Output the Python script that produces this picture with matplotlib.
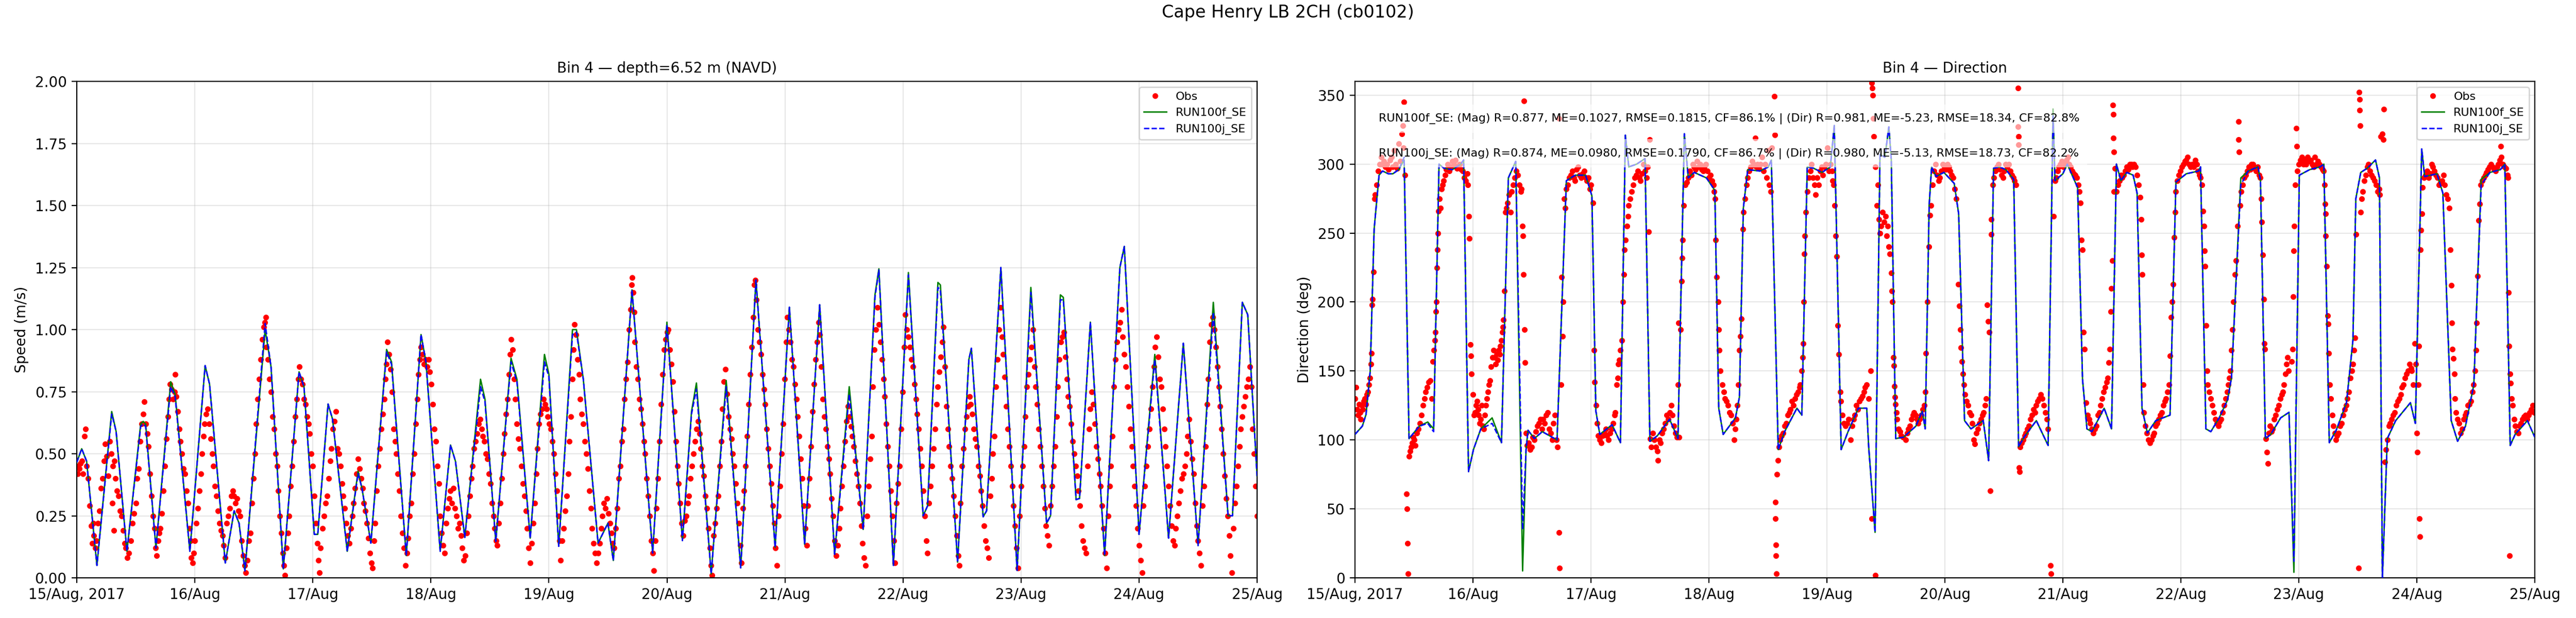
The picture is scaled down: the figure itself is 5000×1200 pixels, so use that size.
import matplotlib
matplotlib.use("Agg")
import matplotlib.pyplot as plt
from matplotlib.ticker import MultipleLocator

# ---------------- data (time in hours since 15/Aug/2017 00:00) ----------------
day_ticks = [0, 24, 48, 72, 96, 120, 144, 168, 192, 216, 240]
day_labels = ["15/Aug, 2017", "16/Aug", "17/Aug", "18/Aug", "19/Aug", "20/Aug",
              "21/Aug", "22/Aug", "23/Aug", "24/Aug", "25/Aug"]

# model speed vertices: (hour, RUN100f, RUN100j)
speed_model = [
    (0, 0.465, 0.465), (1, 0.52, 0.52), (2, 0.47, 0.47), (4.1, 0.05, 0.05),
    (7.1, 0.67, 0.66), (8, 0.59, 0.59), (10.2, 0.107, 0.107), (13.0, 0.62, 0.61),
    (13.5, 0.63, 0.62), (14.0, 0.62, 0.61), (16.1, 0.12, 0.12), (19.1, 0.79, 0.77),
    (20, 0.74, 0.73), (23.0, 0.107, 0.107), (26.1, 0.855, 0.855), (27, 0.78, 0.78),
    (30.2, 0.06, 0.06), (32.0, 0.27, 0.27), (33, 0.22, 0.22), (34.2, 0.028, 0.028),
    (38.3, 1.00, 1.025), (39.5, 0.85, 0.85), (42.0, 0.036, 0.036), (45.2, 0.83, 0.83),
    (46.2, 0.77, 0.77), (48.3, 0.175, 0.175), (49.0, 0.175, 0.175), (51.1, 0.70, 0.70),
    (52, 0.64, 0.64), (55.0, 0.107, 0.107), (57.2, 0.43, 0.42), (58, 0.36, 0.36),
    (59.8, 0.14, 0.14), (63.0, 0.92, 0.91), (64, 0.87, 0.86), (67.0, 0.09, 0.09),
    (70.0, 0.98, 0.98), (71, 0.87, 0.87), (73.9, 0.107, 0.107), (76.0, 0.535, 0.535),
    (77, 0.47, 0.47), (78.9, 0.163, 0.163), (82.1, 0.80, 0.77), (83, 0.72, 0.71),
    (85.2, 0.147, 0.147), (88.3, 0.885, 0.87), (89.5, 0.80, 0.79), (92.2, 0.16, 0.16),
    (95.1, 0.90, 0.87), (96, 0.82, 0.81), (98.0, 0.127, 0.127), (100.8, 1.00, 0.98),
    (101.6, 1.00, 0.99), (103, 0.80, 0.80), (106.0, 0.14, 0.14), (108.0, 0.22, 0.22),
    (109.1, 0.07, 0.07), (112.9, 1.16, 1.16), (117.1, 0.10, 0.10), (120.0, 1.03, 1.02),
    (123.15, 0.15, 0.15), (125.0, 0.67, 0.66), (126.0, 0.785, 0.76), (129.0, 0.016, 0.016),
    (132.05, 0.795, 0.77), (135.0, 0.04, 0.04), (138.1, 1.20, 1.20), (142.0, 0.123, 0.123),
    (144.9, 1.09, 1.09), (148.0, 0.135, 0.135), (151.06, 1.10, 1.10), (154.1, 0.095, 0.095),
    (157.07, 0.77, 0.74), (159.9, 0.195, 0.195), (162.3, 1.14, 1.13), (163.1, 1.245, 1.24),
    (166.05, 0.05, 0.05), (169.1, 1.23, 1.22), (172.1, 0.25, 0.25), (173.0, 0.29, 0.29),
    (175.1, 1.19, 1.17), (175.6, 1.18, 1.16), (179.1, 0.063, 0.063), (181.4, 0.88, 0.88),
    (181.9, 0.925, 0.925), (184.3, 0.246, 0.246), (185.0, 0.27, 0.27), (187.9, 1.25, 1.25),
    (191.2, 0.03, 0.03), (194.0, 1.17, 1.15), (197.2, 0.22, 0.22), (198.0, 0.25, 0.25),
    (200.0, 1.14, 1.12), (200.6, 1.13, 1.12), (203.2, 0.315, 0.315), (203.9, 0.32, 0.32),
    (206.1, 1.03, 1.03), (209.0, 0.09, 0.09), (212.1, 1.25, 1.25), (213.0, 1.335, 1.335),
    (216.0, 0.175, 0.175), (219.2, 0.90, 0.88), (222.0, 0.16, 0.16), (225.0, 0.945, 0.945),
    (228.0, 0.13, 0.13), (231.1, 1.11, 1.07), (234.1, 0.25, 0.25), (235.0, 0.25, 0.25),
    (237.0, 1.11, 1.11), (238.1, 1.06, 1.06), (240.0, 0.41, 0.41),
]

# observed speed: (hour, m/s)
speed_obs = [
    (0.0,0.45),(0.25,0.42),(0.5,0.44),(0.75,0.46),(1.0,0.47),(1.3,0.42),(1.6,0.57),(1.8,0.60),(2.0,0.45),(2.3,0.40),
    (2.6,0.29),(2.9,0.21),(3.1,0.14),(3.3,0.22),(3.5,0.17),(3.8,0.12),(4.0,0.15),(4.3,0.22),(4.6,0.27),(4.9,0.36),
    (5.2,0.40),(5.5,0.47),(5.8,0.54),(6.1,0.49),(6.4,0.41),(6.7,0.55),(7.0,0.50),(7.2,0.30),(7.3,0.45),(7.5,0.19),
    (7.6,0.47),(7.9,0.40),(8.2,0.35),(8.5,0.33),(8.8,0.27),(9.1,0.25),(9.4,0.19),(9.7,0.14),(10.0,0.12),(10.3,0.08),
    (10.6,0.10),(11.0,0.15),(11.3,0.22),(11.6,0.26),(12.0,0.30),(12.3,0.40),(12.6,0.44),(12.9,0.55),(13.2,0.62),(13.5,0.66),
    (13.7,0.71),(14.0,0.62),(14.3,0.58),(14.6,0.53),(14.9,0.42),(15.2,0.33),(15.5,0.25),(15.8,0.20),(16.0,0.12),(16.2,0.09),
    (16.5,0.15),(16.8,0.18),(17.0,0.20),(17.3,0.26),(17.6,0.35),(17.9,0.45),(18.2,0.56),(18.5,0.65),(18.8,0.72),(19.0,0.78),
    (19.3,0.76),(19.6,0.72),(19.9,0.75),(20.0,0.82),(20.2,0.73),(20.5,0.67),(20.8,0.60),(21.1,0.55),(21.4,0.50),(21.7,0.44),
    (22.0,0.42),(22.3,0.35),(22.6,0.30),(22.9,0.20),(23.1,0.15),(23.3,0.08),(23.6,0.06),(23.8,0.10),
    (24.0,0.15),(24.3,0.22),(24.6,0.28),(24.9,0.35),(25.2,0.42),(25.5,0.50),(25.8,0.57),(26.0,0.62),(26.3,0.66),(26.6,0.68),
    (26.9,0.62),(27.2,0.56),(27.5,0.50),(27.8,0.45),(28.1,0.37),(28.4,0.33),(28.7,0.27),(29.0,0.22),(29.3,0.19),(29.6,0.17),
    (29.9,0.13),(30.2,0.08),(30.5,0.22),(30.8,0.25),(31.1,0.28),(31.4,0.33),(31.7,0.35),(32.0,0.33),(32.3,0.30),(32.6,0.32),
    (32.9,0.27),(33.2,0.25),(33.5,0.15),(33.8,0.09),(34.1,0.05),(34.4,0.02),(34.7,0.07),
    (35.0,0.15),(35.3,0.18),(35.6,0.30),(35.9,0.40),(36.2,0.50),(36.5,0.62),(36.8,0.72),(37.1,0.80),(37.4,0.88),(37.7,0.96),
    (38.0,1.01),(38.2,1.03),(38.4,1.05),(38.6,0.93),(38.9,0.88),(39.2,0.80),(39.5,0.75),(39.8,0.65),(40.1,0.60),(40.4,0.50),
    (40.7,0.45),(41.0,0.35),(41.3,0.25),(41.6,0.18),(41.9,0.10),(42.1,0.05),(42.3,0.01),
    (42.6,0.12),(42.9,0.18),(43.2,0.25),(43.5,0.37),(43.8,0.45),(44.1,0.55),(44.4,0.65),(44.7,0.72),(45.0,0.80),(45.3,0.85),
    (45.6,0.80),(45.9,0.78),(46.2,0.72),(46.5,0.70),(46.8,0.65),(47.1,0.62),(47.4,0.58),(47.7,0.50),(48.0,0.45),(48.3,0.33),
    (48.6,0.22),(48.9,0.14),(49.1,0.07),(49.3,0.02),(49.6,0.12),
    (50.0,0.20),(50.3,0.25),(50.6,0.30),(50.9,0.33),(51.2,0.40),(51.5,0.47),(51.8,0.52),(52.1,0.60),(52.4,0.63),(52.7,0.67),
    (53.0,0.52),(53.3,0.50),(53.6,0.45),(53.9,0.38),(54.2,0.33),(54.5,0.28),(54.8,0.22),(55.1,0.17),(55.4,0.14),
    (55.7,0.20),(56.0,0.25),(56.3,0.30),(56.6,0.36),(56.9,0.42),(57.2,0.48),(57.5,0.44),(57.8,0.40),(58.1,0.36),(58.4,0.30),
    (58.7,0.27),(59.0,0.22),(59.3,0.16),(59.6,0.10),(59.9,0.06),(60.1,0.04),
    (60.4,0.15),(60.7,0.22),(61.0,0.35),(61.3,0.45),(61.6,0.52),(61.9,0.60),(62.2,0.66),(62.5,0.72),(62.8,0.80),(63.0,0.86),
    (63.2,0.95),(63.5,0.90),(63.8,0.84),(64.1,0.75),(64.4,0.60),(64.7,0.55),(65.0,0.50),(65.3,0.42),(65.6,0.35),(65.9,0.25),
    (66.2,0.18),(66.5,0.12),(66.8,0.05),
    (67.1,0.10),(67.4,0.16),(67.7,0.25),(68.0,0.30),(68.3,0.42),(68.6,0.50),(68.9,0.62),(69.2,0.72),(69.5,0.82),(69.8,0.88),
    (70.0,0.93),(70.3,0.90),(70.6,0.86),(70.9,0.88),(71.2,0.85),(71.5,0.88),(71.8,0.83),(72.1,0.78),(72.4,0.70),(72.7,0.60),
    (73.0,0.55),(73.3,0.45),(73.6,0.38),(73.9,0.25),(74.2,0.18),(74.5,0.13),(74.8,0.10),
    (75.1,0.22),(75.4,0.28),(75.7,0.32),(76.0,0.35),(76.3,0.30),(76.6,0.36),(76.9,0.28),(77.2,0.25),(77.5,0.20),(77.8,0.22),
    (78.1,0.17),(78.4,0.12),(78.7,0.07),(79.0,0.09),
    (79.3,0.18),(79.6,0.25),(79.9,0.33),(80.2,0.40),(80.5,0.45),(80.8,0.52),(81.1,0.55),(81.4,0.58),(81.7,0.62),(82.0,0.64),
    (82.3,0.60),(82.6,0.57),(82.9,0.55),(83.2,0.50),(83.5,0.48),(83.8,0.42),(84.1,0.38),(84.4,0.30),(84.7,0.25),(85.0,0.20),
    (85.3,0.15),(85.5,0.13),
    (85.8,0.22),(86.1,0.30),(86.4,0.40),(86.7,0.50),(87.0,0.58),(87.3,0.66),(87.6,0.72),(87.9,0.82),(88.1,0.90),(88.3,0.96),
    (88.6,0.92),(88.9,0.80),(89.2,0.72),(89.5,0.62),(89.8,0.56),(90.1,0.52),(90.4,0.45),(90.7,0.38),(91.0,0.33),(91.3,0.27),
    (91.6,0.20),(91.9,0.12),(92.2,0.06),
    (92.5,0.14),(92.8,0.22),(93.1,0.30),(93.4,0.42),(93.7,0.52),(94.0,0.62),(94.3,0.66),(94.6,0.68),(94.9,0.72),(95.2,0.70),
    (95.5,0.68),(95.8,0.65),(96.1,0.62),(96.4,0.60),(96.7,0.55),(97.0,0.50),(97.3,0.42),(97.6,0.35),(97.9,0.25),(98.2,0.15),
    (98.4,0.07),
    (98.7,0.15),(99.0,0.20),(99.3,0.27),(99.6,0.33),(99.9,0.42),(100.2,0.55),(100.5,0.65),(100.8,0.80),(101.0,0.92),(101.2,1.02),
    (101.5,0.98),(101.8,0.88),(102.1,0.82),(102.4,0.72),(102.7,0.66),(103.0,0.62),(103.3,0.55),(103.6,0.50),(103.9,0.44),(104.2,0.35),
    (104.5,0.28),(104.8,0.20),(105.1,0.14),(105.4,0.10),(105.7,0.06),
    (106.0,0.10),(106.3,0.14),(106.6,0.20),(106.9,0.25),(107.2,0.30),(107.5,0.28),(107.8,0.32),(108.1,0.26),(108.4,0.22),(108.7,0.18),
    (109.0,0.14),(109.3,0.12),
    (109.6,0.20),(109.9,0.28),(110.2,0.40),(110.5,0.45),(110.8,0.55),(111.1,0.60),(111.4,0.72),(111.7,0.80),(112.0,0.87),(112.3,1.00),
    (112.6,1.08),(112.8,1.18),(112.9,1.21),(113.1,1.15),(113.3,1.07),(113.5,0.95),(113.8,0.85),(114.1,0.80),(114.4,0.72),(114.7,0.68),
    (115.0,0.62),(115.3,0.55),(115.6,0.50),(115.9,0.40),(116.2,0.33),(116.5,0.25),(116.8,0.15),(117.1,0.10),(117.3,0.03),
    (117.6,0.15),(117.9,0.28),(118.2,0.40),(118.5,0.55),(118.8,0.70),(119.1,0.82),(119.4,0.92),(119.7,0.96),(120.0,0.99),(120.3,1.00),
    (120.6,0.92),(120.9,0.86),(121.2,0.79),(121.5,0.67),(121.8,0.55),(122.1,0.45),(122.4,0.38),(122.7,0.30),(123.0,0.22),(123.3,0.17),
    (123.6,0.23),(123.9,0.25),(124.2,0.30),(124.5,0.33),(124.8,0.40),(125.1,0.45),(125.4,0.50),(125.7,0.55),(126.0,0.60),(126.3,0.63),
    (126.6,0.58),(126.9,0.52),(127.2,0.45),(127.5,0.41),(127.8,0.33),(128.1,0.28),(128.4,0.20),(128.7,0.12),(129.0,0.05),(129.2,0.01),
    (129.5,0.17),(129.8,0.22),(130.1,0.28),(130.4,0.33),(130.7,0.45),(131.0,0.55),(131.3,0.68),(131.6,0.79),(131.9,0.84),(132.2,0.74),
    (132.5,0.65),(132.8,0.60),(133.1,0.56),(133.4,0.50),(133.7,0.45),(134.0,0.38),(134.3,0.30),(134.6,0.22),(134.9,0.13),(135.1,0.06),
    (135.4,0.28),(135.7,0.35),(136.0,0.45),(136.3,0.57),(136.6,0.70),(136.9,0.82),(137.2,0.93),(137.5,1.05),(137.8,1.18),(138.0,1.20),
    (138.2,1.12),(138.5,1.00),(138.8,0.95),(139.1,0.90),(139.4,0.82),(139.7,0.76),(140.0,0.70),(140.3,0.60),(140.6,0.52),(140.9,0.45),
    (141.2,0.38),(141.5,0.29),(141.8,0.22),(142.1,0.12),(142.4,0.05),
    (142.7,0.25),(143.0,0.37),(143.3,0.50),(143.6,0.62),(143.9,0.80),(144.2,0.95),(144.5,1.05),(144.8,1.00),(145.1,0.95),(145.4,0.88),
    (145.7,0.85),(146.0,0.78),(146.3,0.72),(146.6,0.65),(146.9,0.57),(147.2,0.48),(147.5,0.40),(147.8,0.29),(148.1,0.20),(148.4,0.13),
    (148.7,0.29),(149.0,0.40),(149.3,0.53),(149.6,0.67),(149.9,0.78),(150.2,0.88),(150.5,0.95),(150.8,1.03),(151.1,0.98),(151.4,0.85),
    (151.7,0.72),(152.0,0.65),(152.3,0.60),(152.6,0.53),(152.9,0.48),(153.2,0.42),(153.5,0.32),(153.8,0.25),(154.1,0.15),(154.4,0.09),
    (154.7,0.13),(155.0,0.20),(155.3,0.28),(155.6,0.37),(155.9,0.45),(156.2,0.55),(156.5,0.63),(156.8,0.69),(157.1,0.65),(157.4,0.61),
    (157.7,0.57),(158.0,0.53),(158.3,0.47),(158.6,0.42),(158.9,0.37),(159.2,0.30),(159.5,0.21),(159.8,0.14),(160.1,0.08),(160.4,0.05),
    (160.7,0.25),(161.0,0.37),(161.3,0.48),(161.6,0.57),(161.9,0.77),(162.2,0.92),(162.5,1.00),(162.8,1.09),(163.1,1.02),(163.4,0.95),
    (163.7,0.88),(164.0,0.80),(164.3,0.73),(164.6,0.62),(164.9,0.53),(165.2,0.45),(165.5,0.35),(165.8,0.25),(166.1,0.15),(166.4,0.06),
    (166.7,0.30),(167.0,0.38),(167.3,0.45),(167.6,0.60),(167.9,0.75),(168.2,0.93),(168.5,1.06),(168.8,1.00),(169.1,0.97),(169.4,0.93),
    (169.7,0.88),(170.0,0.85),(170.3,0.78),(170.6,0.72),(170.9,0.66),(171.2,0.60),(171.5,0.52),(171.8,0.45),(172.1,0.35),(172.4,0.25),
    (172.7,0.15),(173.0,0.10),
    (173.3,0.30),(173.6,0.37),(173.9,0.45),(174.2,0.52),(174.5,0.60),(174.8,0.70),(175.1,0.77),(175.4,0.83),(175.7,0.89),(176.0,0.95),
    (176.2,1.01),(176.5,0.85),(176.8,0.69),(177.1,0.60),(177.4,0.53),(177.7,0.45),(178.0,0.40),(178.3,0.33),(178.6,0.25),(178.9,0.17),
    (179.2,0.09),(179.4,0.05),
    (179.7,0.30),(180.0,0.45),(180.3,0.52),(180.6,0.60),(180.9,0.65),(181.2,0.69),(181.5,0.73),(181.8,0.70),(182.1,0.66),(182.4,0.60),
    (182.7,0.56),(183.0,0.53),(183.3,0.45),(183.6,0.41),(183.9,0.35),(184.2,0.29),(184.5,0.21),(184.8,0.15),(185.1,0.12),(185.4,0.08),
    (185.7,0.33),(186.0,0.40),(186.3,0.50),(186.6,0.57),(186.9,0.77),(187.2,0.88),(187.5,1.00),(187.8,1.09),(188.1,0.97),(188.4,0.90),
    (188.7,0.81),(189.0,0.69),(189.3,0.60),(189.6,0.53),(189.9,0.45),(190.2,0.37),(190.5,0.29),(190.8,0.21),(191.1,0.12),(191.4,0.04),
    (191.7,0.25),(192.0,0.37),(192.3,0.45),(192.6,0.53),(192.9,0.65),(193.2,0.77),(193.5,0.82),(193.8,0.88),(194.1,0.93),(194.4,1.00),
    (194.7,0.85),(195.0,0.77),(195.3,0.70),(195.6,0.60),(195.9,0.53),(196.2,0.45),(196.5,0.37),(196.8,0.28),(197.1,0.21),(197.4,0.17),
    (197.7,0.13),
    (198.0,0.29),(198.3,0.37),(198.6,0.45),(198.9,0.53),(199.2,0.65),(199.5,0.77),(199.8,0.88),(200.1,0.95),(200.4,0.97),(200.7,0.99),
    (201.0,0.89),(201.3,0.80),(201.6,0.73),(201.9,0.69),(202.2,0.62),(202.5,0.55),(202.8,0.50),(203.1,0.45),(203.4,0.41),(203.7,0.35),
    (204.0,0.29),(204.3,0.21),(204.6,0.15),(204.9,0.12),(205.2,0.10),
    (205.5,0.45),(205.8,0.60),(206.1,0.68),(206.4,0.75),(206.7,0.70),(207.0,0.62),(207.3,0.53),(207.6,0.48),(207.9,0.42),(208.2,0.37),
    (208.5,0.29),(208.8,0.20),(209.1,0.10),(209.4,0.04),
    (209.7,0.25),(210.0,0.37),(210.3,0.45),(210.6,0.57),(210.9,0.77),(211.2,0.88),(211.5,0.95),(211.8,1.00),(212.1,1.03),(212.4,1.08),
    (212.7,0.97),(213.0,0.90),(213.3,0.85),(213.6,0.77),(213.9,0.69),(214.2,0.60),(214.5,0.53),(214.8,0.45),(215.1,0.37),(215.4,0.29),
    (215.7,0.20),(216.0,0.13),(216.3,0.07),(216.6,0.02),
    (216.9,0.29),(217.2,0.37),(217.5,0.45),(217.8,0.53),(218.1,0.60),(218.4,0.68),(218.7,0.77),(219.0,0.85),(219.3,0.93),(219.6,0.97),
    (219.9,0.89),(220.2,0.80),(220.5,0.77),(220.8,0.68),(221.1,0.60),(221.4,0.53),(221.7,0.45),(222.0,0.37),(222.3,0.29),(222.6,0.21),
    (222.9,0.15),(223.2,0.13),
    (223.5,0.20),(223.8,0.25),(224.1,0.30),(224.4,0.35),(224.7,0.40),(225.0,0.42),(225.3,0.45),(225.6,0.50),(225.9,0.57),(226.2,0.64),
    (226.5,0.55),(226.8,0.48),(227.1,0.42),(227.4,0.30),(227.7,0.21),(228.0,0.15),(228.3,0.10),(228.6,0.05),
    (228.9,0.29),(229.2,0.37),(229.5,0.53),(229.8,0.70),(230.1,0.80),(230.4,0.95),(230.7,1.02),(231.0,1.05),(231.3,1.00),(231.6,0.93),
    (231.9,0.85),(232.2,0.77),(232.5,0.69),(232.8,0.60),(233.1,0.50),(233.4,0.41),(233.7,0.32),(234.0,0.25),(234.3,0.17),(234.6,0.09),
    (234.9,0.02),
    (235.2,0.20),(235.5,0.30),(235.8,0.37),(236.1,0.45),(236.4,0.53),(236.7,0.60),(237.0,0.65),(237.3,0.69),(237.6,0.73),(237.9,0.77),
    (238.2,0.80),(238.5,0.85),(238.8,0.77),(239.1,0.60),(239.4,0.50),(239.7,0.37),(240.0,0.25),
]

# model direction vertices: (hour, RUN100f, RUN100j)
dir_model = [
    (0, 104, 104), (1.5, 110, 110), (2.25, 118.5, 118.5), (3.1, 150, 150), (3.9, 253, 253),
    (4.9, 292, 292), (5.6, 295, 295), (6.8, 293, 293), (7.7, 293, 293), (8.9, 296, 296),
    (10.0, 303, 305), (11.0, 101, 101), (13.1, 110, 110), (14.8, 113, 112), (16.0, 108, 106),
    (17.1, 300, 300), (18.1, 297, 297), (19.8, 296, 296), (21.5, 300, 300), (22.1, 303, 303),
    (23.1, 77, 77), (24.1, 93, 93), (25.6, 108, 108), (27.9, 116, 112), (29.8, 98, 98),
    (31.2, 290, 290), (32.7, 302, 302), (34.1, 5, 35), (34.8, 93, 93), (35.2, 107, 107),
    (36.5, 101, 101), (38.1, 106, 106), (41.1, 100, 100), (43.0, 288, 288), (44.8, 292, 292),
    (46.9, 292, 292), (48.2, 277, 277), (49.0, 121, 121), (49.8, 104, 104), (52.3, 111, 111),
    (54.0, 98, 98), (55.0, 321, 321), (55.7, 298, 298), (57.3, 300, 300), (59.0, 304, 304),
    (60.0, 99, 99), (61.5, 103, 103), (64.0, 115, 115), (65.7, 101, 101), (67.0, 322, 322),
    (67.8, 290, 290), (69.0, 294, 294), (71.5, 290, 290), (73.2, 281, 281), (74.0, 123, 123),
    (74.9, 104, 104), (77.4, 116, 116), (78.2, 131, 131), (79.0, 268, 268), (79.9, 296, 296),
    (82.4, 295, 295), (84.1, 298, 298), (84.7, 303, 303), (86.1, 93, 93), (87.4, 106, 106),
    (89.9, 123, 123), (90.9, 118, 118), (92.0, 298, 298), (93.3, 297, 297), (95.0, 294, 294),
    (96.7, 298, 298), (97.5, 328, 328), (98.9, 93, 93), (100.3, 106, 106), (102.4, 123, 123),
    (104.1, 123, 123), (104.5, 95, 95), (105.8, 33, 33), (106.8, 307, 307), (107.8, 305, 305),
    (108.6, 327, 327), (109.1, 303, 303), (110.0, 101, 101), (111.6, 102, 102), (114.1, 110, 110),
    (115.4, 121, 121), (116.0, 108, 108), (116.8, 270, 270), (117.3, 298, 298), (118.2, 291, 291),
    (119.8, 294, 294), (121.9, 286, 286), (122.8, 264, 264), (124.0, 114, 114), (125.3, 108, 108),
    (127.8, 114, 114), (128.9, 85, 85), (129.9, 297, 297), (131.1, 298, 298), (132.4, 296, 296),
    (134.0, 289, 289), (135.0, 95, 95), (136.1, 102, 102), (138.6, 114, 114), (141.0, 96, 96),
    (142.0, 340, 335), (142.4, 288, 288), (144.0, 293, 293), (144.9, 300, 300), (147.0, 283, 283),
    (148.0, 144, 144), (148.9, 108, 108), (149.9, 106, 106), (152.4, 123, 123), (153.9, 108, 108),
    (154.9, 300, 300), (155.8, 288, 288), (157.0, 294, 294), (158.3, 292, 292), (159.1, 279, 279),
    (160.1, 123, 123), (161.2, 105, 105), (162.9, 114, 114), (165.8, 118, 118), (167.0, 287, 287),
    (169.1, 293, 293), (171.6, 295, 295), (172.0, 298, 298), (173.1, 108, 108), (174.1, 106, 106),
    (175.8, 116, 116), (177.5, 129, 129), (178.3, 145, 145), (180.2, 290, 285), (181.7, 295, 295),
    (183.7, 298, 298), (184.2, 288, 288), (185.2, 101, 101), (186.3, 104, 104), (188.3, 116, 116),
    (190.0, 120, 120), (191.0, 4, 12), (192.1, 292, 292), (194.2, 296, 296), (196.3, 298, 298),
    (197.1, 300, 300), (198.2, 98, 98), (199.6, 107, 107), (201.7, 127, 127), (203.0, 172, 172),
    (203.6, 275, 275), (204.6, 294, 294), (205.9, 297, 297), (207.6, 303, 303), (208.4, 290, 290),
    (209.0, 0, 0), (210.0, 101, 101), (211.7, 114, 114), (214.7, 127, 127), (215.7, 112, 112),
    (217.0, 311, 311), (217.6, 291, 291), (220.1, 293, 293), (221.3, 279, 279), (223.0, 114, 114),
    (224.3, 99, 99), (225.9, 110, 110), (227.6, 140, 140), (229.1, 289, 285), (230.9, 294, 294),
    (233.0, 296, 296), (233.9, 300, 300), (235.0, 96, 96), (236.0, 104, 104), (238.5, 114, 114),
    (240.0, 102, 102),
]

# observed direction: (hour, deg)
dir_obs = [
    (0.0,130),(0.2,138),(0.4,122),(0.6,118),(0.8,126),(1.0,120),(1.2,115),(1.4,125),(1.6,122),(1.8,128),(2.0,130),(2.2,126),
    (2.4,133),(2.6,135),(2.8,140),(3.0,145),(3.2,155),(3.35,163),(3.5,198),(3.6,202),(3.8,222),(4.0,275),(4.1,278),(4.4,285),
    (4.7,295),(5.0,300),(5.3,305),(5.6,300),(5.9,302),(6.2,298),(6.5,300),(6.8,296),(7.1,303),(7.4,305),(7.7,298),(8.0,310),
    (8.3,300),(8.6,297),(8.9,315),(9.2,302),(9.5,322),(9.7,328),(9.9,312),(10.0,345),(10.2,292),
    (10.5,61),(10.6,50),(10.7,25),(10.8,3),(11.0,88),(11.2,92),(11.4,95),(11.6,98),(11.8,102),(12.0,100),(12.3,96),(12.6,105),
    (12.9,108),(13.2,112),(13.5,118),(13.8,125),(14.1,130),(14.4,135),(14.7,138),(15.0,142),(15.3,143),(15.6,130),(15.8,157),
    (16.0,165),(16.2,172),(16.4,178),(16.5,193),(16.6,200),(16.7,225),(16.8,238),(16.9,250),(17.0,266),(17.2,275),(17.4,268),
    (17.6,282),(17.8,285),(18.0,288),(18.3,292),(18.6,296),(18.9,300),(19.2,295),(19.5,298),(19.8,302),(20.1,300),(20.4,303),
    (20.7,297),(21.0,298),(21.3,300),(21.6,296),(21.9,295),(22.2,290),(22.5,288),(22.8,293),(23.0,285),
    (23.2,262),(23.3,246),(23.5,169),(23.6,161),(23.7,148),(24.0,133),(24.2,118),(24.4,120),(24.6,125),(24.8,128),(25.0,122),
    (25.2,118),(25.4,112),(25.6,115),(25.8,125),(26.0,110),(26.2,108),(26.4,118),(26.6,125),(26.8,130),(27.0,135),(27.3,140),
    (27.5,143),(27.7,153),(28.0,160),(28.2,165),(28.4,160),(28.6,155),(28.8,162),(29.0,158),(29.2,165),(29.4,162),(29.6,168),
    (29.8,172),(30.0,178),(30.05,182),(30.2,187),(30.4,208),(30.6,265),(30.8,268),(31.0,272),(31.3,278),(31.6,265),(31.9,280),
    (32.2,285),(32.5,290),(32.8,295),(33.1,292),(33.4,285),(33.7,280),(33.9,282),
    (34.1,255),(34.2,248),(34.3,220),(34.35,346),(34.5,180),(34.6,156),(34.8,105),(35.0,96),(35.3,98),(35.6,93),(35.9,95),
    (36.2,102),(36.5,100),(36.8,106),(37.1,110),(37.4,112),(37.7,115),(38.0,108),(38.3,115),(38.6,112),(38.9,118),(39.2,120),
    (39.5,108),(39.8,105),(40.1,100),(40.4,112),(40.7,118),(41.0,100),(41.2,95),
    (41.5,33),(41.6,7),(41.45,333),(41.9,140),(42.0,218),(42.2,175),(42.3,200),(42.6,275),(42.8,268),(43.0,282),(43.3,285),
    (43.6,290),(43.9,292),(44.2,295),(44.5,290),(44.8,288),(45.1,296),(45.4,298),(45.7,292),(46.0,290),(46.3,293),(46.6,295),
    (46.9,290),(47.2,288),(47.5,290),(47.8,282),(48.0,285),(48.4,272),
    (48.6,165),(48.7,142),(49.0,125),(49.3,112),(49.5,103),(49.8,100),(50.1,98),(50.4,103),(50.7,105),(51.0,108),(51.3,103),
    (51.6,100),(51.9,105),(52.2,108),(52.5,112),(52.8,118),(52.9,120),(53.2,140),(53.4,145),(53.6,155),(53.8,158),(54.0,165),
    (54.3,172),(54.5,200),(54.7,220),(54.8,238),(55.0,245),(55.3,255),(55.5,262),(55.7,270),(56.0,275),(56.3,280),(56.6,285),
    (56.9,290),(57.2,292),(57.5,295),(57.8,290),(58.1,288),(58.4,293),(58.7,300),(59.0,295),(59.3,290),(59.5,298),
    (59.7,251),(59.9,318),(60.1,101),(60.3,95),(60.6,105),(60.9,100),(61.2,95),(61.5,92),(61.6,85),(61.9,100),(62.2,98),
    (62.5,105),(62.8,108),(63.1,112),(63.4,118),(63.7,115),(64.0,120),(64.3,125),(64.6,118),(64.9,110),(65.2,105),(65.5,102),
    (65.7,140),(65.8,185),(65.9,102),(66.2,180),(66.4,215),(66.5,232),(66.7,245),(66.9,270),(67.2,285),(67.5,287),(67.8,290),
    (68.1,295),(68.4,292),(68.7,300),(69.0,298),(69.3,296),(69.6,302),(69.9,298),(70.2,300),(70.5,296),(70.8,295),(71.1,298),
    (71.4,300),(71.7,295),(72.0,290),(72.3,292),(72.6,288),(72.9,285),(73.1,280),
    (73.3,275),(73.4,245),(73.6,218),(73.9,200),(74.0,180),(74.1,165),(74.3,150),(74.7,140),(75.0,135),(75.3,130),(75.6,128),
    (75.9,125),(76.2,120),(76.5,118),(76.8,112),(77.1,100),(77.3,108),(77.6,115),(77.8,125),(78.0,140),(78.2,165),(78.4,175),
    (78.6,188),(78.9,253),(79.0,265),(79.3,275),(79.6,285),(79.9,290),(80.2,295),(80.5,298),(80.8,302),(81.1,300),(81.4,319),
    (81.6,298),(81.9,300),(82.2,297),(82.5,300),(82.8,305),(83.1,295),(83.4,300),(83.7,290),(84.0,310),(84.3,285),(84.6,280),
    (84.8,312),
    (85.3,349),(85.4,321),(85.5,55),(85.55,43),(85.6,24),(85.65,16),(85.7,3),(85.8,75),(86.0,85),(86.3,95),(86.5,100),(86.8,103),
    (87.1,105),(87.4,110),(87.7,112),(88.0,118),(88.3,120),(88.6,122),(88.9,128),(89.2,125),(89.5,130),(89.8,133),(90.1,135),
    (90.4,138),(90.6,140),(90.9,150),(91.1,160),(91.2,170),(91.3,200),(91.4,235),(91.5,248),(91.7,265),(92.0,280),(92.3,290),
    (92.6,295),(92.9,300),(93.2,290),(93.5,285),(93.7,278),(94.0,290),(94.3,285),(94.6,295),(94.9,298),(95.2,292),(95.5,298),
    (95.8,300),(96.1,312),(96.4,295),(96.7,300),(97.0,295),(97.2,288),(97.4,285),(97.6,270),
    (97.8,248),(98.0,233),(98.2,183),(98.4,162),(98.7,135),(98.8,128),(99.1,118),(99.5,112),(99.8,110),(100.1,112),(100.4,115),
    (100.8,100),(101.1,110),(101.4,115),(101.7,118),(102.0,125),(102.3,122),(102.6,128),(102.9,130),(103.2,132),(103.5,135),
    (103.8,138),(104.1,140),(104.5,130),(104.9,150),(105.1,43),(105.15,359),(105.25,355),(105.3,350),(105.4,333),(105.5,320),
    (105.8,2),(105.9,298),
    (106.2,270),(106.4,285),(106.6,260),(106.8,250),(107.0,255),(107.3,265),(107.6,258),(107.9,262),(108.2,248),(108.4,255),
    (108.6,240),(108.8,235),(109.1,221),(109.2,208),(109.3,200),(109.5,160),(109.6,154),(109.7,139),(109.8,131),(109.9,126),
    (110.1,120),(110.3,115),(110.6,108),(110.9,106),(111.1,103),(111.5,102),(112.0,100),(112.3,105),(112.6,108),(112.9,110),
    (113.2,115),(113.5,118),(113.7,120),(114.0,118),(114.3,115),(114.6,112),(114.9,115),(115.2,118),(115.5,122),(115.8,125),
    (116.0,135),(116.1,163),
    (116.4,200),(116.7,240),(117.0,263),(117.2,270),(117.5,285),(117.8,295),(118.1,300),(118.4,292),(118.7,288),(119.0,290),
    (119.3,295),(119.6,300),(119.9,298),(120.2,296),(120.5,300),(120.8,298),(121.1,295),(121.4,292),(121.7,290),(122.0,282),
    (122.3,275),
    (122.7,213),(122.9,197),(123.1,180),(123.3,167),(123.5,157),(123.7,148),(123.9,140),(124.1,133),(124.4,128),(124.7,125),
    (125.0,120),(125.3,118),(125.6,112),(125.9,100),(126.1,97),(126.4,105),(126.7,108),(127.0,112),(127.3,115),(127.6,118),
    (127.9,120),(128.2,125),(128.4,130),(128.6,198),(128.8,186),(129.0,178),(129.2,63),(129.4,249),(129.45,260),(129.7,285),
    (130.0,290),(130.3,295),(130.6,298),(130.9,300),(131.2,296),(131.5,292),(131.8,290),(132.1,295),(132.4,300),(132.7,298),
    (133.0,300),(133.3,295),(133.6,292),(133.9,290),(134.2,288),(134.5,285),
    (134.85,355),(134.9,327),(134.95,320),(135.0,314),(135.1,80),(135.15,77),(135.3,95),(135.6,98),(135.9,100),(136.2,103),
    (136.5,105),(136.8,108),(137.1,110),(137.4,115),(137.7,118),(138.0,122),(138.3,120),(138.6,125),(138.9,128),(139.2,130),
    (139.5,133),(139.8,130),(140.1,125),(140.4,120),(140.7,115),(141.0,108),(141.5,9),(141.55,3),
    (142.1,262),(142.4,288),(142.6,290),(142.9,295),(143.2,298),(143.5,300),(143.8,302),(144.1,298),(144.4,300),(144.7,303),
    (145.0,305),(145.3,300),(145.6,298),(145.9,295),(146.2,293),(146.5,292),(146.8,290),(147.1,285),(147.4,280),(147.6,272),
    (147.8,245),(148.0,238),(148.2,178),(148.4,166),(148.7,127),(149.0,118),(149.3,115),(149.6,112),(149.9,108),(150.2,105),
    (150.5,108),(150.8,110),(151.1,118),(151.4,120),(151.7,125),(152.0,130),(152.3,135),(152.6,138),(152.9,142),(153.1,145),
    (153.3,156),(153.5,166),(153.7,193),(153.9,210),
    (154.1,230),(154.2,343),(154.25,336),(154.3,319),(154.35,309),(154.4,280),(154.6,297),(154.9,280),(155.2,285),(155.5,288),
    (155.8,292),(156.1,290),(156.4,292),(156.7,295),(157.0,298),(157.3,296),(157.6,300),(157.9,300),(158.2,298),(158.5,300),
    (158.8,298),(159.1,292),(159.4,285),(159.7,276),(159.9,260),
    (160.0,234),(160.1,220),(160.3,140),(160.5,120),(160.8,110),(161.1,105),(161.4,100),(161.7,98),(162.0,100),(162.3,103),
    (162.6,105),(162.9,110),(163.2,112),(163.5,115),(163.8,118),(164.1,120),(164.4,125),(164.7,128),(165.0,130),(165.3,135),
    (165.6,140),(165.8,161),(166.0,189),(166.2,200),(166.4,213),(166.6,247),(166.8,265),
    (167.0,280),(167.3,288),(167.6,292),(167.9,295),(168.2,298),(168.5,300),(168.8,302),(169.1,303),(169.4,305),(169.7,300),
    (170.0,298),(170.3,300),(170.6,298),(170.9,303),(171.2,300),(171.5,295),(171.8,292),(172.0,290),(172.3,285),
    (172.5,266),(172.7,255),(172.8,237),(172.9,226),(173.1,183),(173.3,150),(173.5,140),(173.8,135),(174.1,130),(174.4,125),
    (174.7,120),(175.0,115),(175.3,112),(175.6,110),(175.9,113),(176.2,115),(176.5,120),(176.8,125),(177.1,130),(177.4,135),
    (177.6,140),(177.9,145),(178.1,150),(178.3,165),(178.5,180),(178.7,200),(179.0,220),(179.2,230),(179.5,255),
    (179.7,331),(179.75,318),(179.8,309),(180.0,270),(180.3,280),(180.6,285),(180.9,290),(181.2,292),(181.5,295),(181.8,298),
    (182.1,296),(182.4,300),(182.7,300),(183.0,297),(183.3,295),(183.6,298),(183.9,292),(184.1,290),
    (184.3,275),(184.5,258),(184.7,234),(184.9,202),(185.0,170),(185.1,166),(185.3,101),(185.5,91),(185.7,83),(185.9,105),
    (186.1,110),(186.4,106),(186.7,108),(187.0,115),(187.3,118),(187.6,122),(187.9,125),(188.2,130),(188.5,133),(188.8,135),
    (189.0,140),(189.3,148),(189.5,155),(189.7,160),(189.9,150),
    (190.5,157),(190.7,166),(190.8,204),(191.0,237),(191.1,255),(191.3,285),(191.5,326),(191.55,313),(191.7,295),(192.0,300),
    (192.3,303),(192.6,305),(192.9,300),(193.2,303),(193.5,300),(193.8,305),(194.1,302),(194.4,303),(194.7,300),(195.0,298),
    (195.3,305),(195.6,300),(195.9,302),(196.2,300),(196.5,298),(196.8,296),(197.0,295),
    (197.2,285),(197.3,271),(197.4,264),(197.5,248),(197.7,226),(197.9,190),(198.0,184),(198.1,163),(198.3,140),(198.5,130),
    (198.8,118),(199.0,110),(199.3,105),(199.5,100),(199.8,103),(200.1,105),(200.4,110),(200.7,112),(201.0,118),(201.3,122),
    (201.6,125),(201.9,130),(202.2,135),(202.5,145),(202.8,150),(203.0,155),(203.2,165),(203.4,174),(203.6,249),
    (204.2,7),(204.3,352),(204.35,347),(204.4,339),(204.5,328),(204.6,265),(204.8,275),(205.0,280),(205.3,288),(205.6,292),
    (205.9,298),(206.2,300),(206.5,295),(206.8,292),(207.1,290),(207.4,288),(207.7,285),(208.0,280),(208.3,282),(208.5,278),
    (208.7,320),(209.0,322),(209.2,318),(209.3,340),
    (209.5,84),(209.7,93),(210.0,100),(210.3,110),(210.6,112),(210.9,115),(211.2,118),(211.5,120),(211.8,125),(212.1,128),
    (212.4,130),(212.7,133),(213.0,138),(213.3,140),(213.6,145),(213.9,148),(214.2,150),(214.5,155),(214.8,152),(215.0,150),
    (215.3,140),(215.6,170),(215.8,155),(216.0,105),(216.1,91),(216.3,140),(216.4,168),(216.5,43),(216.6,30),(216.7,238),
    (216.8,252),(217.0,264),(217.2,283),
    (217.5,290),(217.8,292),(218.1,295),(218.4,290),(218.7,293),(219.0,300),(219.3,298),(219.6,295),(219.9,292),(220.2,290),
    (220.5,285),(220.8,287),(221.1,288),(221.4,292),(221.7,285),(222.0,278),(222.3,275),
    (222.6,268),(222.8,238),(223.0,212),(223.1,185),(223.2,166),(223.4,159),(223.6,148),(223.8,130),(224.0,120),(224.3,115),
    (224.6,112),(224.9,105),(225.2,108),(225.5,115),(225.8,118),(226.1,120),(226.4,125),(226.7,126),(227.0,128),(227.3,135),
    (227.5,140),(227.8,150),(228.0,165),(228.2,185),(228.4,219),(228.6,259),(228.8,271),
    (229.0,285),(229.3,288),(229.6,290),(229.9,292),(230.2,294),(230.5,296),(230.8,298),(231.1,300),(231.4,298),(231.7,296),
    (232.0,295),(232.3,298),(232.6,300),(232.9,303),(233.1,313),(233.2,305),(233.5,300),(233.8,298),(234.1,297),(234.4,292),
    (234.5,290),
    (234.7,207),(234.8,168),(234.85,16),(235.0,148),(235.1,141),(235.3,130),(235.5,125),(235.8,115),(236.0,110),(236.3,106),
    (236.6,105),(236.9,110),(237.2,112),(237.5,115),(237.8,117),(238.1,118),(238.4,115),(238.7,118),(239.0,120),(239.3,122),
    (239.6,125),(239.9,120),
]

stats_f = "RUN100f_SE: (Mag) R=0.877, ME=0.1027, RMSE=0.1815, CF=86.1% | (Dir) R=0.981, ME=-5.23, RMSE=18.34, CF=82.8%"
stats_j = "RUN100j_SE: (Mag) R=0.874, ME=0.0980, RMSE=0.1790, CF=86.7% | (Dir) R=0.980, ME=-5.13, RMSE=18.73, CF=82.2%"

# ---------------- figure ----------------
fig = plt.figure(figsize=(25, 6), dpi=200)
ax1 = fig.add_axes([0.0298, 0.065, 0.4582, 0.8033])
ax2 = fig.add_axes([0.526, 0.065, 0.458, 0.8033])
fig.suptitle("Cape Henry LB 2CH (cb0102)", fontsize=12, y=0.993)


def draw(ax, model, obs):
    mh = [m[0] for m in model]
    mf = [m[1] for m in model]
    mj = [m[2] for m in model]
    oh = [o[0] for o in obs]
    ov = [o[1] for o in obs]
    ax.plot(oh, ov, linestyle="none", marker="o", color="red", ms=3, label="Obs", zorder=2)
    ax.plot(mh, mf, color="green", lw=1, label="RUN100f_SE", zorder=3)
    ax.plot(mh, mj, color="blue", lw=1, ls="--", label="RUN100j_SE", zorder=4)
    ax.set_xlim(0, 240)
    ax.set_xticks(day_ticks)
    ax.set_xticklabels(day_labels)
    ax.grid(True, alpha=0.3)
    ax.legend(loc="upper right", fontsize=8)


draw(ax1, speed_model, speed_obs)
ax1.set_ylim(0, 2.0)
ax1.yaxis.set_major_locator(MultipleLocator(0.25))
ax1.set_ylabel("Speed (m/s)")
ax1.set_title("Bin 4 \u2014 depth=6.52 m (NAVD)", fontsize=10)

draw(ax2, dir_model, dir_obs)
ax2.set_ylim(0, 360)
ax2.yaxis.set_major_locator(MultipleLocator(50))
ax2.set_ylabel("Direction (deg)")
ax2.set_title("Bin 4 \u2014 Direction", fontsize=10)

box = dict(facecolor="white", alpha=0.6, edgecolor="none", pad=6)
ax2.text(0.02, 0.925, stats_f, transform=ax2.transAxes, fontsize=8, va="center", ha="left", bbox=box, zorder=10)
ax2.text(0.02, 0.855, stats_j, transform=ax2.transAxes, fontsize=8, va="center", ha="left", bbox=box, zorder=10)

fig.savefig("out.png", dpi=200)
